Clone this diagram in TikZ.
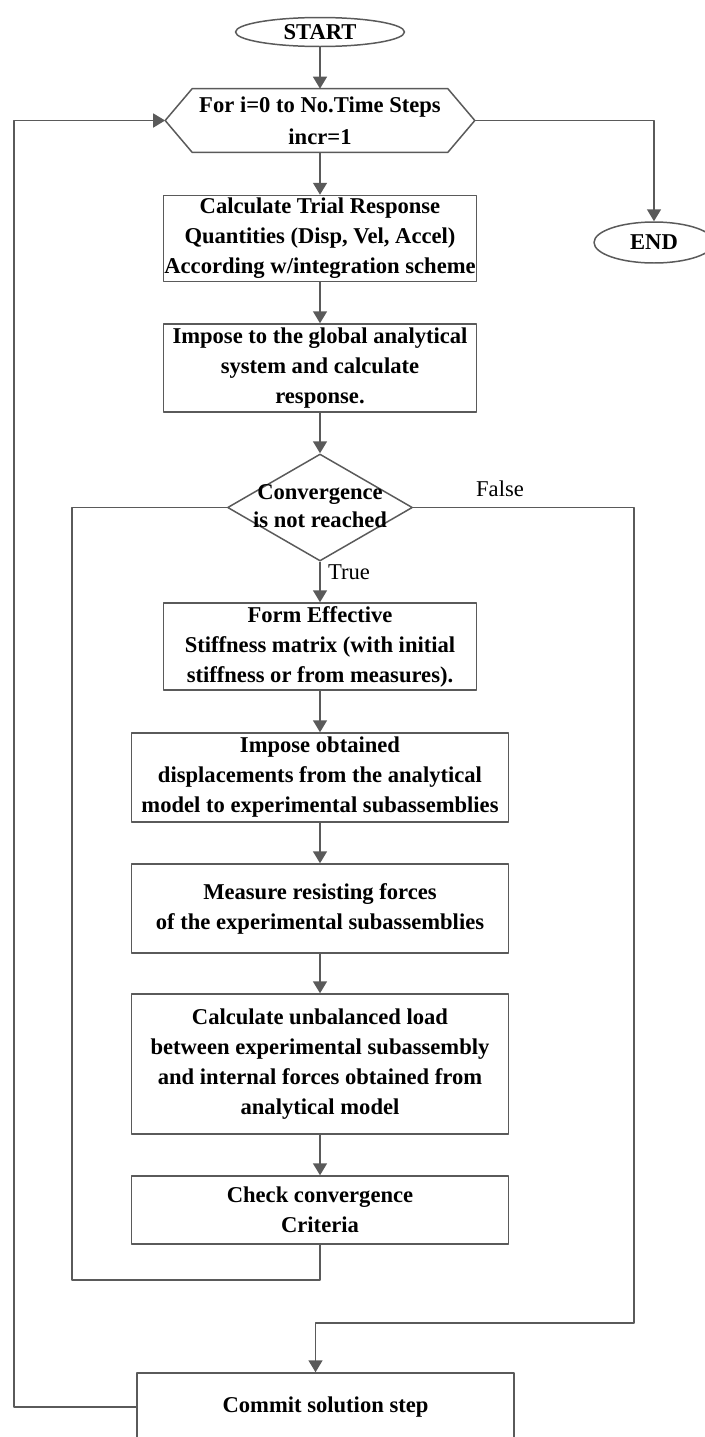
\documentclass[tikz,border=0pt]{standalone}
\usepackage{fontspec}
\setmainfont{Liberation Serif}
\usetikzlibrary{arrows.meta,shapes.geometric}
\definecolor{linegray}{HTML}{5A5A5A}
\begin{document}
\begin{tikzpicture}[x=0.02cm, y=-0.02cm, font=\fontsize{12.86pt}{17.07pt}\selectfont\bfseries, line join=round,
	>={Triangle[length=0.24cm,width=0.28cm]},
	line/.style={draw=linegray, line width=0.85pt},
	arr/.style={line, ->},
	box/.style={line, rectangle, align=center, inner sep=0.5pt},
	term/.style={line, ellipse, inner sep=0pt},
	decision/.style={line, diamond, minimum width=3.7cm, minimum height=2.14cm, inner sep=0pt},
	lbl/.style={font=\fontsize{12.86pt}{17.07pt}\selectfont\mdseries, inner sep=0pt}]
	\def\wa{6.26cm} \def\wb{7.54cm}
	\useasboundingbox (0,0) rectangle (705,1437);
	\node[term, minimum width=3.38cm, minimum height=0.58cm] (start) at (320,32) {START};
	\node[align=center, minimum width=5.1cm, minimum height=1.26cm, inner sep=0pt] (loop) at (320,120.5) {For i=0 to No.Time Steps\\[0.04cm]incr=1};
	\coordinate (loopL) at ([xshift=-0.54cm]loop.west);
	\coordinate (loopR) at ([xshift=0.54cm]loop.east);
	\draw[line] (loop.north west) -- (loop.north east) -- (loopR) -- (loop.south east) -- (loop.south west) -- (loopL) -- cycle;
	\node[term, minimum width=2.4cm, minimum height=0.82cm] (end) at (654,242.5) {END};
	\node[box, minimum width=\wa, minimum height=1.72cm] (trial) at (320,238.5) {Calculate Trial Response\\Quantities (Disp, Vel, Accel)\\According w/integration scheme};
	\node[box, minimum width=\wa, minimum height=1.76cm] (impose) at (320,368) {Impose to the global analytical\\system and calculate\\response.};
	\node[decision] (conv) at (320,507.5) {};
	\node[align=center, inner sep=0pt] (convtxt) at (320,506) {Convergence\\[-0.04cm]is not reached};
	\node[lbl] (falselbl) at (500,489) {False};
	\node[lbl] (truelbl) at (349,572) {True};
	\node[box, minimum width=\wa, minimum height=1.74cm] (stiff) at (320,646.5) {Form Effective\\Stiffness matrix (with initial\\stiffness or from measures).};
	\node[box, minimum width=\wb, minimum height=1.78cm] (disp) at (320,777.5) {Impose obtained\\displacements from the analytical\\model to experimental subassemblies};
	\node[box, minimum width=\wb, minimum height=1.78cm] (meas) at (320,908.5) {Measure resisting forces\\of the experimental subassemblies};
	\node[box, minimum width=\wb, minimum height=2.8cm] (unbal) at (320,1064) {Calculate unbalanced load\\between experimental subassembly\\and internal forces obtained from\\analytical model};
	\node[box, minimum width=\wb, minimum height=1.36cm] (check) at (320,1210) {Check convergence\\Criteria};
	\node[box, minimum width=\wb, minimum height=1.36cm] (commit) at (325.5,1407) {Commit solution step};
	\coordinate (backL) at (14,120.5);
	\coordinate (loopB) at (72,1280);
	\coordinate (falseB) at (634,1323);
	\foreach \a/\b in {start/loop,loop/trial,trial/impose,impose/conv,conv/stiff,stiff/disp,disp/meas,meas/unbal,unbal/check}
		\draw[arr] (\a.south) -- (\b.north);
	\draw[arr] (loopR) -| (end.north);
	\draw[line] (conv.west) -| (loopB) -| (check.south);
	\draw[arr] (conv.east) -| (falseB) -| ([xshift=-0.2cm]commit.north);
	\draw[arr] (commit.west) -| (backL) -- (loopL);
\end{tikzpicture}
\end{document}
